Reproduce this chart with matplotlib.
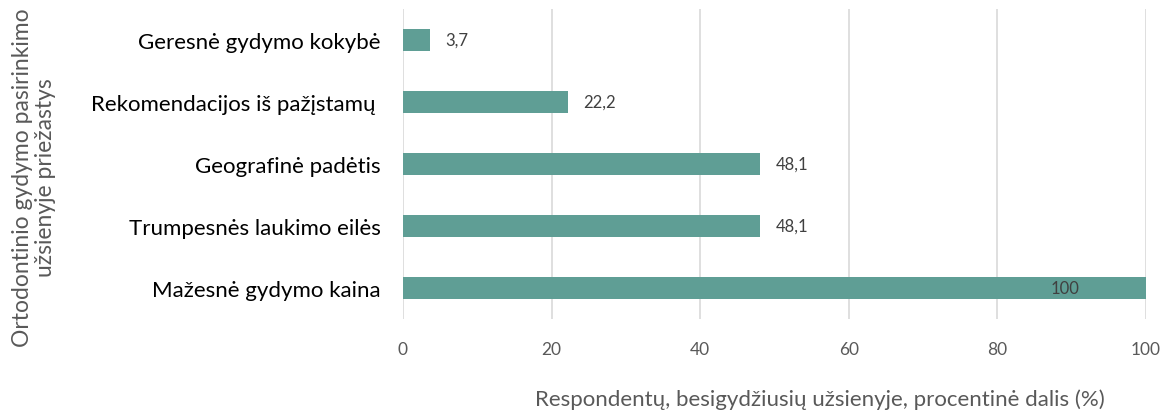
import matplotlib.pyplot as plt

# Data
categories = ['Mažesnė gydymo kaina', 'Trumpesnės laukimo eilės', 'Geografinė padėtis',
              'Rekomendacijos iš pažįstamų ', 'Geresnė gydymo kokybė']
values = [100, 48.1, 48.1, 22.2, 3.7]
value_labels = ['100', '48,1', '48,1', '22,2', '3,7']
x_ticks = [0, 20, 40, 60, 80, 100]

bar_color = '#5f9e95'
plt.rcParams['font.family'] = ['Lato', 'DejaVu Sans']

fig = plt.figure(figsize=(11.63, 4.14), dpi=100)
ax = fig.add_axes([0.3465, 0.227, 0.9854 - 0.3465, 0.749])

ypos = range(len(categories))
ax.barh(ypos, values, height=0.36, color=bar_color, zorder=3)

for y, v, lab in zip(ypos, values, value_labels):
    if v >= 90:
        ax.annotate(lab, (v, y), xytext=(-58, 0), textcoords='offset points',
                    ha='center', va='center', fontsize=12, color='#404040', zorder=4)
    else:
        ax.annotate(lab, (v, y), xytext=(11, 0), textcoords='offset points',
                    ha='left', va='center', fontsize=12, color='#404040', zorder=4)

ax.set_xlim(0, 100)
ax.set_ylim(-0.5, 4.5)
ax.set_xticks(x_ticks)
ax.set_yticks(list(ypos))
ax.set_yticklabels(categories, fontsize=16, color='black')
ax.tick_params(axis='y', length=0, pad=16)
ax.tick_params(axis='x', length=0, pad=16, labelsize=12.5, labelcolor='#595959')
ax.xaxis.grid(True, color='#d9d9d9', linewidth=1.2, zorder=0)
for s in ax.spines.values():
    s.set_visible(False)

fig.text(0.95, 0.035, 'Respondentų, besigydžiusių užsienyje, procentinė dalis (%)',
         ha='right', va='center', fontsize=16, color='#595959')
fig.text(0.029, 0.57, 'Ortodontinio gydymo pasirinkimo\nužsienyje priežastys',
         rotation=90, ha='center', va='center', fontsize=16.5, color='#595959',
         multialignment='center', linespacing=1.1)

fig.savefig('out.png', dpi=100)
